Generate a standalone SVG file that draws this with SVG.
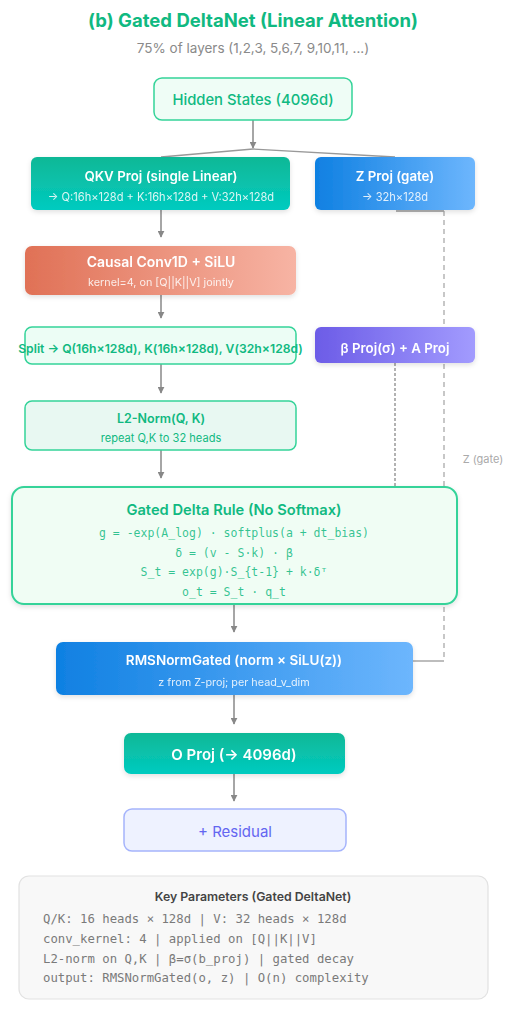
<svg xmlns="http://www.w3.org/2000/svg" width="514" height="1014" viewBox="0 0 514 1014">
<defs>
<style>
.t{font-family:Inter,"Noto Sans","Liberation Sans",sans-serif}
.m{font-family:"DejaVu Sans Mono","Liberation Mono",monospace}
.w{fill:#ffffff;font-weight:600;text-anchor:middle}
.ws{fill:#ffffff;fill-opacity:0.85;text-anchor:middle}
.g{fill:#10b981;text-anchor:middle}
.lg{fill:#ecfdf5;stroke:#34d399;stroke-width:1.5}
.arr{stroke:#888;stroke-width:1.5;fill:none;marker-end:url(#ah)}
.ln{stroke:#999;stroke-width:1.3;fill:none}
</style>
<marker id="ah" viewBox="0 0 10 10" refX="9" refY="5" markerWidth="7" markerHeight="7" orient="auto" markerUnits="userSpaceOnUse">
<path d="M0,0 L10,5 L0,10 z" fill="#888"/>
</marker>
<linearGradient id="gGreen" x1="0" y1="0" x2="0" y2="1"><stop offset="0" stop-color="#0cb896"/><stop offset="1" stop-color="#03cbc0"/></linearGradient>
<linearGradient id="gBlue" x1="0" y1="0" x2="1" y2="0"><stop offset="0" stop-color="#0f80e2"/><stop offset="1" stop-color="#6db6fd"/></linearGradient>
<linearGradient id="gRed" x1="0" y1="0" x2="1" y2="0"><stop offset="0" stop-color="#e07156"/><stop offset="1" stop-color="#f7b4a4"/></linearGradient>
<linearGradient id="gPurp" x1="0" y1="0" x2="1" y2="0"><stop offset="0" stop-color="#6c5ce7"/><stop offset="1" stop-color="#a29bfe"/></linearGradient>
<filter id="sh" x="-10%" y="-20%" width="120%" height="150%"><feDropShadow dx="0" dy="2" stdDeviation="2.5" flood-color="#000" flood-opacity="0.12"/></filter>
</defs>
<rect width="514" height="1014" fill="#ffffff"/>
<text class="t" x="253" y="27" font-size="18.5" font-weight="700" fill="#10b981" text-anchor="middle">(b) Gated DeltaNet (Linear Attention)</text>
<text class="t" x="253" y="53" font-size="13.5" fill="#8a8a8a" text-anchor="middle">75% of layers (1,2,3, 5,6,7, 9,10,11, ...)</text>

<g id="connectors">
<line class="arr" x1="253" y1="120" x2="253" y2="148"/>
<polyline class="ln" points="161,157 253,149 395,157"/>
<line class="arr" x1="161" y1="210" x2="161" y2="237"/>
<line class="arr" x1="161" y1="295" x2="161" y2="318"/>
<line class="arr" x1="161" y1="364" x2="161" y2="393"/>
<line class="arr" x1="161" y1="450" x2="161" y2="478"/>
<line class="arr" x1="234" y1="604" x2="234" y2="632"/>
<line class="arr" x1="234" y1="695" x2="234" y2="724"/>
<line class="arr" x1="234" y1="774" x2="234" y2="801"/>
<polyline class="ln" points="396,211 444,211"/>
<line x1="444" y1="211" x2="444" y2="661" stroke="#aaa" stroke-width="1.3" stroke-dasharray="5,4"/>
<line class="ln" x1="444" y1="661" x2="413" y2="661"/>
<line x1="395" y1="363" x2="395" y2="487" stroke="#999" stroke-width="1.5" stroke-dasharray="3,2"/>
<text class="t" x="483" y="463" font-size="11" fill="#aaa" text-anchor="middle">Z (gate)</text>
</g>

<g id="hidden">
<rect x="154" y="78" width="198" height="42" rx="8" fill="#effdf6" stroke="#34d399" stroke-width="1.5"/>
<text class="t g" x="253" y="104.5" font-size="14.8" font-weight="500">Hidden States (4096d)</text>
</g>

<g id="qkv" filter="url(#sh)">
<rect x="31" y="157" width="259" height="53" rx="6" fill="url(#gGreen)"/>
<text class="t w" x="161" y="181" font-size="13.3">QKV Proj (single Linear)</text>
<text class="t ws" x="161" y="201" font-size="11.1">→ Q:16h×128d + K:16h×128d + V:32h×128d</text>
</g>

<g id="zproj" filter="url(#sh)">
<rect x="315" y="157" width="160" height="53" rx="6" fill="url(#gBlue)"/>
<text class="t w" x="395" y="181" font-size="13.3">Z Proj (gate)</text>
<text class="t ws" x="395" y="201" font-size="11.1">→ 32h×128d</text>
</g>

<g id="conv" filter="url(#sh)">
<rect x="25" y="246" width="271" height="49" rx="7" fill="url(#gRed)"/>
<text class="t w" x="161" y="267" font-size="14">Causal Conv1D + SiLU</text>
<text class="t ws" x="161" y="286" font-size="10.8">kernel=4, on [Q||K||V] jointly</text>
</g>

<g id="split">
<rect class="lg" x="25" y="327" width="271" height="37" rx="7"/>
<text class="t g" x="160.5" y="352.5" font-size="12.2" font-weight="600">Split → Q(16h×128d), K(16h×128d), V(32h×128d)</text>
</g>

<g id="beta" filter="url(#sh)">
<rect x="315" y="327" width="160" height="36" rx="6" fill="url(#gPurp)"/>
<text class="t w" x="395" y="352.5" font-size="13.3">β Proj(σ) + A Proj</text>
</g>

<g id="l2norm">
<rect x="25" y="401" width="271" height="49" rx="7" fill="#e8f8f2" stroke="#34d399" stroke-width="1.5"/>
<text class="t g" x="161" y="423" font-size="12.5" font-weight="600">L2-Norm(Q, K)</text>
<text class="t g" x="161" y="442" font-size="11.1">repeat Q,K to 32 heads</text>
</g>

<g id="delta">
<rect x="12" y="487" width="445" height="117" rx="12" fill="#f0fdf4" stroke="#34d399" stroke-width="2" filter="url(#sh)"/>
<text class="t g" x="234" y="515" font-size="14.7" font-weight="600">Gated Delta Rule (No Softmax)</text>
<text class="m g" x="234" y="537" font-size="11.5" fill-opacity="0.85">g = -exp(A_log) · softplus(a + dt_bias)</text>
<text class="m g" x="234" y="557" font-size="11.5" fill-opacity="0.85">δ = (v - S·k) · β</text>
<text class="m g" x="234" y="576" font-size="11.5" fill-opacity="0.85">S_t = exp(g)·S_{t-1} + k·δᵀ</text>
<text class="m g" x="234" y="596" font-size="11.5" fill-opacity="0.85">o_t = S_t · q_t</text>
</g>

<g id="rmsnorm" filter="url(#sh)">
<rect x="56" y="642" width="357" height="53" rx="7" fill="url(#gBlue)"/>
<text class="t w" x="234" y="665" font-size="13.5">RMSNormGated (norm × SiLU(z))</text>
<text class="t ws" x="234" y="686" font-size="10.8">z from Z-proj; per head_v_dim</text>
</g>

<g id="oproj" filter="url(#sh)">
<rect x="124" y="733" width="221" height="41" rx="7" fill="url(#gGreen)"/>
<text class="t w" x="234" y="760" font-size="15">O Proj (→ 4096d)</text>
</g>

<g id="residual">
<rect x="124" y="809" width="222" height="42" rx="8" fill="#eef2ff" stroke="#a5b4fc" stroke-width="1.5"/>
<text class="t" x="235" y="837" font-size="15" fill="#6366f1" text-anchor="middle">+ Residual</text>
</g>

<g id="keyparams">
<rect x="19" y="876" width="469" height="123" rx="10" fill="#f8f8f8" stroke="#e2e2e2" stroke-width="1.2"/>
<text class="t" x="253" y="901" font-size="12.3" font-weight="600" fill="#444" text-anchor="middle">Key Parameters (Gated DeltaNet)</text>
<text class="m" x="43" y="923" font-size="12.3" fill="#7a7a7a">Q/K: 16 heads × 128d | V: 32 heads × 128d</text>
<text class="m" x="43" y="943" font-size="12.3" fill="#7a7a7a">conv_kernel: 4 | applied on [Q||K||V]</text>
<text class="m" x="43" y="963" font-size="12.3" fill="#7a7a7a">L2-norm on Q,K | β=σ(b_proj) | gated decay</text>
<text class="m" x="43" y="982" font-size="12.3" fill="#7a7a7a">output: RMSNormGated(o, z) | O(n) complexity</text>
</g>
</svg>
